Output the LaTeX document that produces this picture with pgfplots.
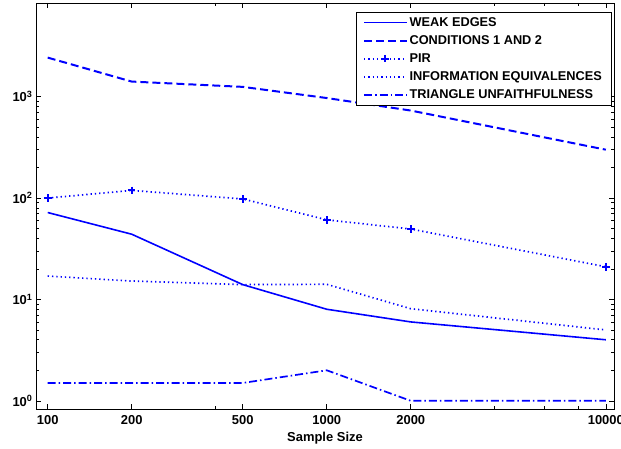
\documentclass[border=0pt]{standalone}
\usepackage{pgfplots}
\pgfplotsset{compat=1.18}
\usepackage{fontspec}
\setmainfont{Liberation Sans}
\usetikzlibrary{calc}
\begin{document}
\begin{tikzpicture}
\begin{axis}[
  name=ax,
  at={(0,0)}, anchor=south west,
  scale only axis,
  width=578bp, height=406bp,
  xmode=log, ymode=log,
  xmin=90.8, xmax=10700,
  ymin=0.83, ymax=8400,
  xtick={100,200,500,1000,2000,10000},
  xticklabels={100,200,500,1000,2000,10000},
  minor xtick={400,4000,6000,8000},
  ytick={1,10,100,1000},
  yticklabels={{10\textsuperscript{0}},{10\textsuperscript{1}},{10\textsuperscript{2}},{10\textsuperscript{3}}},
  tick align=inside,
  major tick length=5bp, minor tick length=3bp,
  tick style={black, line width=0.6pt},
  axis line style={black, line width=0.8pt},
  ticklabel style={font=\fontsize{13}{15}\selectfont\bfseries},
  xticklabel style={yshift=-3bp},
  xlabel={\fontsize{13}{15}\selectfont\bfseries Sample Size},
  xlabel style={yshift=-1bp},
  legend cell align=left,
  legend style={at={(rel axis cs:1,1)}, xshift=-3bp, yshift=-9bp, anchor=north east,
    font=\fontsize{12.8}{14}\selectfont\bfseries,
    row sep=3.8bp, inner xsep=7bp, inner ysep=3bp},
  legend image code/.code={\draw[mark repeat=2,mark phase=2,#1] plot coordinates {(0cm,0cm) (0.75cm,0cm) (1.5cm,0cm)};},
]
\addplot[blue, line width=1.6pt] coordinates {(100,72) (200,44) (500,14) (1000,8) (2000,6) (10000,4)};
\addlegendentry{WEAK EDGES}
\addplot[blue, line width=2pt, dash pattern=on 8bp off 4bp] coordinates {(100,2430) (200,1410) (500,1250) (1000,970) (2000,730) (10000,300)};
\addlegendentry{CONDITIONS 1 AND 2}
\addplot[blue, line width=1.7pt, dash pattern=on 1.3bp off 3bp, mark=+, mark size=3.8bp, mark options={solid, line width=2.2pt}] coordinates {(100,100) (200,119) (500,98) (1000,61) (2000,49.5) (10000,21)};
\addlegendentry{PIR}
\addplot[blue, line width=1.7pt, dash pattern=on 1.3bp off 3bp] coordinates {(100,17) (200,15.2) (500,14) (1000,14.1) (2000,8.1) (10000,5)};
\addlegendentry{INFORMATION EQUIVALENCES}
\addplot[blue, line width=1.7pt, dash pattern=on 8bp off 3bp on 1.5bp off 3bp] coordinates {(100,1.5) (200,1.5) (500,1.5) (1000,2) (2000,1) (10000,1)};
\addlegendentry{TRIANGLE UNFAITHFULNESS}
\end{axis}
\pgfresetboundingbox
\path[use as bounding box] ($(ax.south west)+(-36bp,-39bp)$) rectangle ($(ax.north east)+(7bp,3bp)$);
\end{tikzpicture}
\end{document}
